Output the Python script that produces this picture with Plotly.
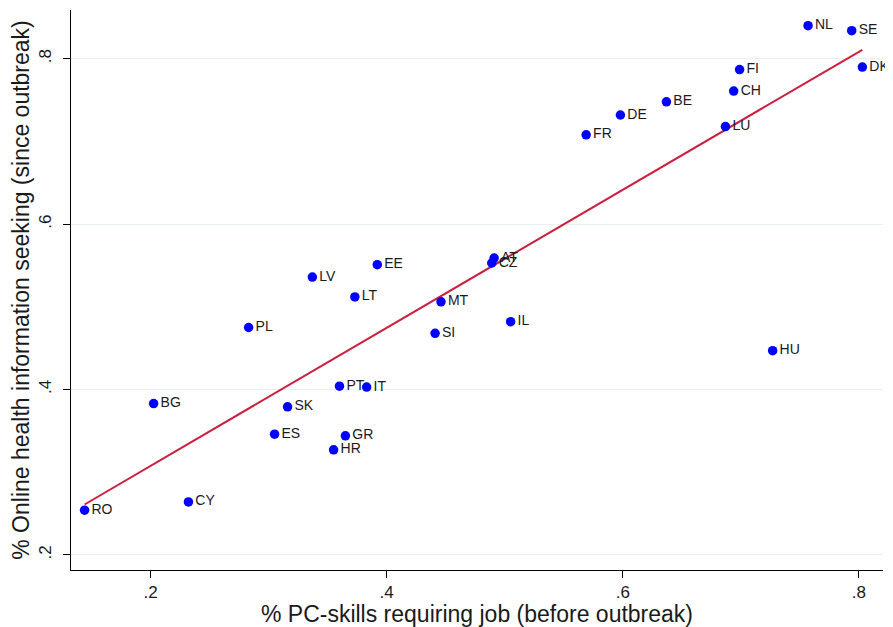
import numpy as np
import plotly.graph_objects as go

countries = ["NL","SE","DK","FI","CH","BE","DE","LU","FR","AT","CZ","EE","LV","LT","MT",
             "IL","SI","PL","HU","PT","IT","BG","SK","ES","GR","HR","CY","RO"]
pc_skills = [0.757,0.794,0.803,0.699,0.694,0.637,0.598,0.687,0.569,0.491,0.489,0.392,0.337,0.373,0.446,
             0.505,0.441,0.283,0.727,0.360,0.383,0.2025,0.316,0.305,0.365,0.355,0.232,0.144]
health_seek = [0.840,0.834,0.790,0.787,0.761,0.748,0.732,0.718,0.708,0.559,0.553,0.551,0.536,0.512,0.506,
               0.482,0.468,0.475,0.447,0.404,0.403,0.383,0.379,0.346,0.344,0.327,0.264,0.254]
tick_vals = [0.2, 0.4, 0.6, 0.8]
tick_text = [".2", ".4", ".6", ".8"]

x = np.array(pc_skills)
y = np.array(health_seek)
b, a = np.polyfit(x, y, 1)
xf = np.array([x.min(), x.max()])
yf = a + b * xf

fig = go.Figure()
fig.add_trace(go.Scatter(
    x=xf, y=yf, mode="lines",
    line=dict(color="#cc1f3f", width=2), hoverinfo="skip", showlegend=False))
fig.add_trace(go.Scatter(
    x=pc_skills, y=health_seek, mode="markers+text", text=countries,
    textposition="middle right", cliponaxis=False,
    textfont=dict(family="Liberation Sans, Arial", size=14, color="#1a1a1a"),
    marker=dict(color="#0000ff", size=9.5), showlegend=False))

# page body has an 8px margin, so the figure is sized to fit the window
fig.update_layout(
    width=885, height=619,
    margin=dict(l=63, r=10, t=2, b=57),
    paper_bgcolor="white", plot_bgcolor="white",
    font=dict(family="Liberation Sans, Arial", color="#1a1a1a"),
    xaxis=dict(
        range=[0.1325, 0.8205], tickvals=tick_vals, ticktext=tick_text,
        showgrid=False, zeroline=False, automargin=False,
        showline=True, linecolor="black", linewidth=1,
        ticks="outside", ticklen=7, tickcolor="black",
        tickfont=dict(size=17),
        title=dict(text="% PC-skills requiring job (before outbreak)", font=dict(size=23), standoff=2),
    ),
    yaxis=dict(
        range=[0.1817, 0.859], tickvals=tick_vals, ticktext=tick_text,
        showgrid=True, gridcolor="#e8f0f2", gridwidth=1, zeroline=False, automargin=False,
        showline=True, linecolor="black", linewidth=1,
        ticks="outside", ticklen=7, tickcolor="black", ticklabelstandoff=5,
        tickangle=-90, tickfont=dict(size=17),
        title=dict(text="% Online health information seeking (since outbreak)", font=dict(size=23), standoff=2),
    ),
)
fig.write_html("out.html")
